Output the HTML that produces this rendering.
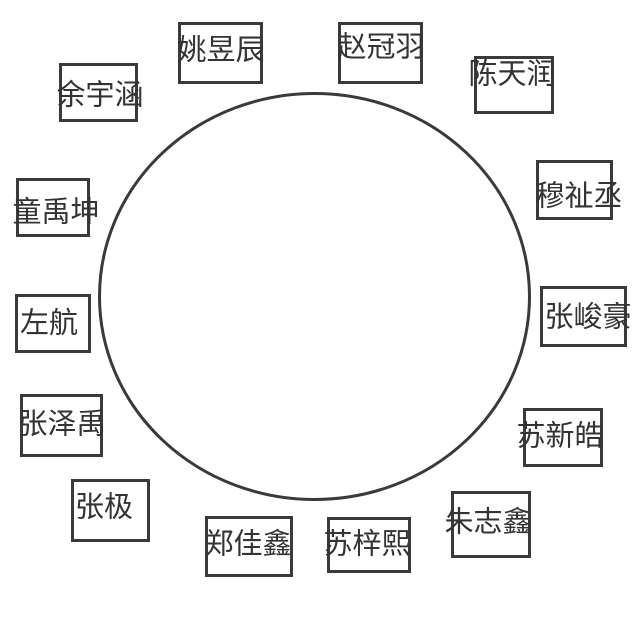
<!DOCTYPE html>
<html><head><meta charset="utf-8"><style>
body{margin:0;width:640px;height:640px;background:#fff;position:relative;overflow:hidden;font-family:"Liberation Sans","Noto Sans CJK SC",sans-serif}
.b{position:absolute;border:3px solid #3a3a3a;box-sizing:border-box}
.t{position:absolute;font-size:29px;color:#333;white-space:nowrap;transform:translate(-50%,-50%);line-height:1}
</style></head><body>
<svg width="640" height="640" style="position:absolute;left:0;top:0"><ellipse cx="314.5" cy="296.5" rx="215" ry="203" fill="none" stroke="#3a3a3a" stroke-width="3"/></svg>
<div class="b" style="left:178px;top:22px;width:85px;height:62px"></div><div class="t" style="left:221px;top:51px">姚昱辰</div>
<div class="b" style="left:338px;top:22px;width:85px;height:62px"></div><div class="t" style="left:381px;top:48px">赵冠羽</div>
<div class="b" style="left:474px;top:56px;width:80px;height:58px"></div><div class="t" style="left:512px;top:75px">陈天润</div>
<div class="b" style="left:59px;top:63px;width:79px;height:59px"></div><div class="t" style="left:100px;top:96px">余宇涵</div>
<div class="b" style="left:536px;top:160px;width:77px;height:60px"></div><div class="t" style="left:579px;top:197px">穆祉丞</div>
<div class="b" style="left:16px;top:178px;width:74px;height:59px"></div><div class="t" style="left:56px;top:213px">童禹坤</div>
<div class="b" style="left:540px;top:286px;width:87px;height:61px"></div><div class="t" style="left:588px;top:318px">张峻豪</div>
<div class="b" style="left:15px;top:294px;width:76px;height:59px"></div><div class="t" style="left:49px;top:324px">左航</div>
<div class="b" style="left:523px;top:408px;width:80px;height:59px"></div><div class="t" style="left:560px;top:437px">苏新皓</div>
<div class="b" style="left:20px;top:394px;width:83px;height:63px"></div><div class="t" style="left:62px;top:425px">张泽禹</div>
<div class="b" style="left:71px;top:479px;width:79px;height:63px"></div><div class="t" style="left:104px;top:508px">张极</div>
<div class="b" style="left:451px;top:491px;width:80px;height:67px"></div><div class="t" style="left:488px;top:523px">朱志鑫</div>
<div class="b" style="left:205px;top:516px;width:88px;height:61px"></div><div class="t" style="left:248px;top:545px">郑佳鑫</div>
<div class="b" style="left:327px;top:517px;width:84px;height:56px"></div><div class="t" style="left:367px;top:545px">苏梓熙</div>
</body></html>
